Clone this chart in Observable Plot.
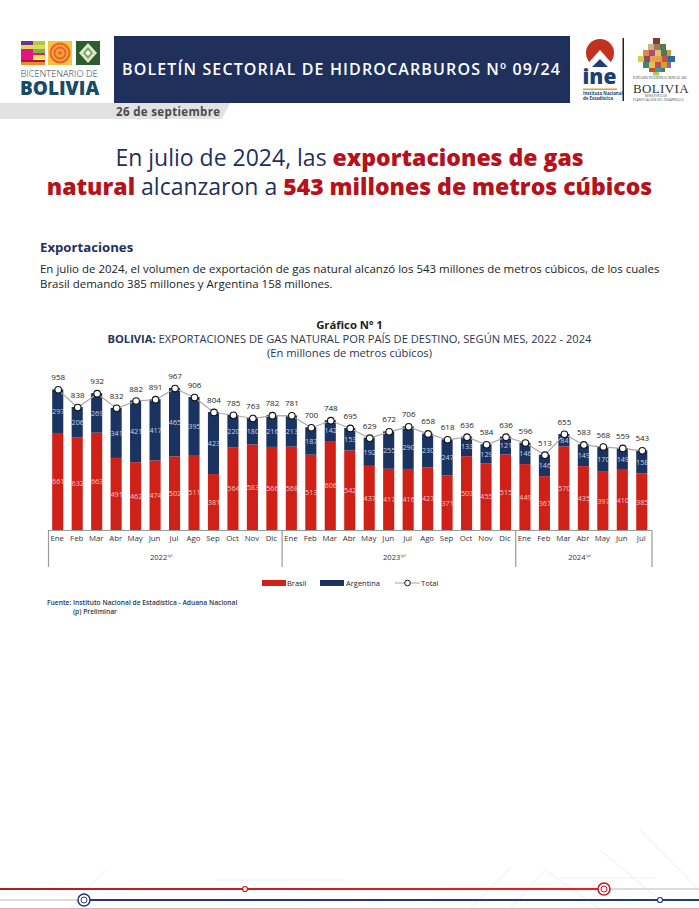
<!DOCTYPE html>
<html lang="es">
<head>
<meta charset="utf-8">
<script src="https://cdn.jsdelivr.net/npm/d3@7"></script>
<script src="https://cdn.jsdelivr.net/npm/@observablehq/plot@0.6"></script>
<style>
html,body{margin:0;padding:0;background:#fff;}
body{position:relative;width:699px;height:909px;overflow:hidden;font-family:"Open Sans",sans-serif;color:#1d1d1b;}
.abs{position:absolute;white-space:nowrap;}
#chart{position:absolute;left:0;top:370px;}
#chart svg{display:block;background:transparent;}
b.red{color:#b5121b;font-weight:800;}
</style>
</head>
<body>
<!-- faint background lines -->
<svg class="abs" style="left:0;top:790px" width="699" height="119" fill="none" stroke="#f4f4f4" stroke-width="1.500">
  <path d="M70 119 L105 80"/><path d="M215 90 H345"/><path d="M470 119 L510 78"/><path d="M510 119 L545 80 L600 119"/>
  <path d="M560 88 H655"/><path d="M600 60 L660 110 M640 40 L699 100"/>
</svg>
<!-- header logos -->
<svg class="abs" style="left:0;top:0" width="699" height="120" xmlns="http://www.w3.org/2000/svg">
  <rect x="21" y="41" width="24" height="4" fill="#7b2d8b"/><rect x="33" y="41" width="12" height="4" fill="#b8c83c"/>
  <rect x="21" y="45" width="24" height="4" fill="#d6df5a"/><rect x="21" y="49" width="24" height="6" fill="#e5157f"/>
  <rect x="33" y="49" width="12" height="4" fill="#7ab648"/>
  <rect x="33" y="55" width="12" height="4" fill="#f6e34a"/><rect x="21" y="55" width="12" height="5" fill="#e5157f"/>
  <rect x="21" y="60" width="24" height="2" fill="#a8193d"/><rect x="21" y="62" width="24" height="3" fill="#f08a2c"/>
  <rect x="48" y="41" width="24" height="24" fill="#f5c43a"/>
  <circle cx="60" cy="53" r="9.500" fill="#f3a33a" stroke="#e8622a" stroke-width="2"/><circle cx="60" cy="53" r="5.500" fill="none" stroke="#e8622a" stroke-width="1.800"/><circle cx="60" cy="53" r="1.800" fill="#e8622a"/>
  <rect x="76" y="41" width="24" height="24" fill="#2e5c30"/>
  <path d="M88 43 L97 53 L88 63 L79 53Z" fill="#dfe8c8"/><path d="M88 47 L93 53 L88 59 L83 53Z" fill="#6fa86a"/><path d="M88 50 L90.500 53 L88 56 L85.500 53Z" fill="#fff"/>

  <!-- INE mark -->
  <circle cx="600" cy="53" r="14" fill="#c2321f"/>
  <path d="M584 68 L600 50 L616 68 L616 70 L584 70Z" fill="#fff"/>
  <path d="M592 67 L600 59 L608 67Z" fill="#1c3f78"/>
  <rect x="583" y="88.500" width="34" height="1.500" fill="#d9a520"/>
  <rect x="622.500" y="38" width="1.500" height="63" fill="#222"/>
  <!-- state emblem -->
  <g>
    <rect x="653" y="38" width="7" height="6" fill="#8a3a2b"/>
    <rect x="648" y="44" width="6" height="6" fill="#c9b48a"/><rect x="654" y="44" width="6" height="6" fill="#9a7a5a"/><rect x="660" y="44" width="6" height="6" fill="#5a7a4a"/>
    <rect x="643" y="50" width="6" height="6" fill="#d98a4a"/><rect x="649" y="50" width="6" height="6" fill="#b0486a"/><rect x="655" y="50" width="6" height="6" fill="#e0c070"/><rect x="661" y="50" width="6" height="6" fill="#4a7a5a"/><rect x="667" y="50" width="4" height="6" fill="#c8a040"/>
    <rect x="638" y="56" width="6" height="6" fill="#dccb3a"/><rect x="644" y="56" width="6" height="6" fill="#8a4a6a"/><rect x="650" y="56" width="6" height="6" fill="#e6a060"/><rect x="656" y="56" width="6" height="6" fill="#e0a040"/><rect x="662" y="56" width="6" height="6" fill="#c85040"/><rect x="668" y="56" width="7" height="6" fill="#2a6aa0"/>
    <rect x="643" y="62" width="6" height="6" fill="#3a8a6a"/><rect x="649" y="62" width="6" height="6" fill="#e8c050"/><rect x="655" y="62" width="6" height="6" fill="#c05050"/><rect x="661" y="62" width="6" height="6" fill="#d0a030"/><rect x="667" y="62" width="4" height="6" fill="#8a6aa0"/>
    <rect x="649" y="68" width="6" height="4" fill="#c84a3a"/><rect x="655" y="68" width="6" height="4" fill="#2a9ac0"/><rect x="661" y="68" width="4" height="4" fill="#4a8a3a"/>
    <rect x="653" y="72" width="6" height="3.500" fill="#b8c83c"/>
  </g>
</svg>
<div class="abs" style="left:20.500px;top:68px;font-size:9.300px;line-height:11px;font-weight:300;color:#2f3b44">BICENTENARIO DE</div>
<div class="abs" style="left:20px;top:79px;font-size:19px;line-height:19px;font-weight:800;color:#174b66">BOLIVIA</div>
<div class="abs" style="left:114px;top:36px;width:456px;height:67px;background:#1f305c"></div>
<div class="abs" style="left:122px;top:58px;font-size:16px;font-weight:600;color:#fff;letter-spacing:1.130px">BOLETÍN SECTORIAL DE HIDROCARBUROS Nº 09/24</div>
<div class="abs" style="left:0;top:103px;width:230px;height:16px;background:#e2e2e2;clip-path:polygon(0 0,100% 0,96.500% 100%,0 100%)"></div>
<div class="abs" style="left:116px;top:103.500px;font-size:11.500px;font-weight:700;color:#4a4a4a;letter-spacing:.35px">26 de septiembre</div>
<div class="abs" style="left:582.500px;top:62px;font-size:21px;font-weight:800;color:#1c3f78">ine</div>
<div class="abs" style="left:583px;top:90.500px;font-size:4.400px;line-height:5px;font-weight:700;color:#1c3f78">Instituto Nacional<br>de Estadística</div>
<div class="abs" style="left:633px;top:76px;font-family:'Liberation Serif',serif;font-size:3.900px;color:#444">ESTADO PLURINACIONAL DE</div>
<div class="abs" style="left:633px;top:80.500px;font-family:'Liberation Serif',serif;font-size:13px;color:#333;letter-spacing:.35px">BOLIVIA</div>
<div class="abs" style="left:633px;top:95px;font-size:3.200px;line-height:3.500px;color:#555;text-align:center;width:46px">MINISTERIO DE<br>PLANIFICACIÓN DEL DESARROLLO</div>

<!-- title -->
<div class="abs" style="left:0;width:699px;top:143px;text-align:center;font-size:23px;line-height:29px;color:#1f305c">En julio de 2024, las <b class="red" style="font-size:23px">exportaciones de gas</b><br><b class="red" style="font-size:23px">natural</b> alcanzaron a <b class="red" style="font-size:23px">543 millones de metros cúbicos</b></div>
<div class="abs" style="left:40px;top:238px;font-size:13.200px;font-weight:700;color:#1f305c">Exportaciones</div>
<div class="abs" style="left:40px;top:261px;font-size:11.480px;line-height:15px;color:#222">En julio de 2024, el volumen de exportación de gas natural alcanzó los 543 millones de metros cúbicos, de los cuales<br>Brasil demando 385 millones y Argentina 158 millones.</div>
<div class="abs" style="left:0;width:699px;top:317px;text-align:center;font-size:11.300px;font-weight:700;color:#222">Gráfico Nº 1</div>
<div class="abs" style="left:0;width:699px;top:331px;text-align:center;font-size:11.150px;color:#2b3553"><b style="color:#1f305c">BOLIVIA:</b> EXPORTACIONES DE GAS NATURAL POR PAÍS DE DESTINO, SEGÚN MES, 2022 - 2024</div>
<div class="abs" style="left:0;width:699px;top:345px;text-align:center;font-size:11.200px;color:#2b3553">(En millones de metros cúbicos)</div>

<div id="chart"></div>

<!-- legend -->
<div class="abs" style="left:262px;top:580px;width:24px;height:6px;background:#cf2118"></div>
<div class="abs" style="left:287px;top:578px;font-size:7.500px;color:#222">Brasil</div>
<div class="abs" style="left:320px;top:580px;width:24px;height:6px;background:#1a3360"></div>
<div class="abs" style="left:346px;top:578px;font-size:7.500px;color:#222">Argentina</div>
<svg class="abs" style="left:395px;top:578px" width="26" height="10"><line x1="0" x2="25" y1="5" y2="5" stroke="#a6a6a6" stroke-width="1"/><circle cx="12.500" cy="5" r="2.800" fill="#fff" stroke="#111" stroke-width="1"/></svg>
<div class="abs" style="left:421px;top:578px;font-size:7.500px;color:#222">Total</div>
<div class="abs" style="left:47px;top:599px;font-size:6.700px;font-weight:600;line-height:8.500px;color:#2b3553">Fuente: Instituto Nacional de Estadística - Aduana Nacional<br><span style="margin-left:26px">(p) Preliminar</span></div>

<!-- footer lines -->
<svg class="abs" style="left:0;top:870px" width="699" height="39">
  <defs>
    <linearGradient id="rg" x1="0" x2="1" y1="0" y2="0"><stop offset="0" stop-color="#a8211f"/><stop offset="1" stop-color="#ee1c25"/></linearGradient>
    <linearGradient id="bg" x1="0" x2="1" y1="0" y2="0"><stop offset="0" stop-color="#2c2e92"/><stop offset="1" stop-color="#1f3f70"/></linearGradient>
  </defs>
  <rect x="0" y="18" width="603" height="2" fill="url(#rg)"/>
  <rect x="603" y="18" width="96" height="2" fill="#dcdcdc"/>
  <rect x="0" y="29" width="84" height="2" fill="#dcdcdc"/>
  <rect x="84" y="29" width="615" height="2" fill="url(#bg)"/>
  <line x1="0" x2="699" y1="38.500" y2="38.500" stroke="#bdbdbd" stroke-width="1"/>
  <circle cx="245" cy="19" r="2.500" fill="#fff" stroke="#c8161d" stroke-width="1.200"/>
  <circle cx="660" cy="30" r="2.500" fill="#fff" stroke="#1f3a7a" stroke-width="1.200"/>
  <circle cx="604" cy="19" r="6" fill="#fff" stroke="#c8161d" stroke-width="1.500"/><circle cx="604" cy="19" r="3" fill="none" stroke="#c8161d" stroke-width="1"/>
  <circle cx="84" cy="30" r="6" fill="#fff" stroke="#1f3a7a" stroke-width="1.500"/><circle cx="84" cy="30" r="3" fill="none" stroke="#1f3a7a" stroke-width="1"/>
</svg>

<script>
const months = ["Ene","Feb","Mar","Abr","May","Jun","Jul","Ago","Sep","Oct","Nov","Dic",
  "Ene","Feb","Mar","Abr","May","Jun","Jul","Ago","Sep","Oct","Nov","Dic",
  "Ene","Feb","Mar","Abr","May","Jun","Jul"];
const brasil = [661,632,663,491,462,474,502,511,381,564,583,566,
  568,513,606,542,437,417,416,427,371,503,455,515,
  449,367,570,435,397,410,385];
const argentina = [297,206,269,341,421,417,465,395,423,220,180,216,
  213,187,142,153,192,255,290,230,247,133,129,121,
  146,146,84,149,170,149,158];
const total = [958,838,932,832,882,891,967,906,804,785,763,782,
  781,700,748,695,629,672,706,658,618,636,584,636,
  596,513,655,583,568,559,543];
const years = [{label:"2022",first:0,last:11},{label:"2023",first:12,last:23},{label:"2024",first:24,last:30}];

const RED="#cf2118", NAVY="#1a3360", FRAME="#9a9a9a";
const idx = months.map((_,i)=>i);
const rows = idx.flatMap(i=>[
  {i,serie:"Brasil",v:brasil[i]},
  {i,serie:"Argentina",v:argentina[i]}
]);
const W = 699, H = 200, ML = 48, MR = W-651.5;
const step = (W-ML-MR)/months.length;
const pxPerUnit = 0.1468;
const below = px => -px/pxPerUnit;
const yearAnchor = d => d.first+Math.floor((d.last-d.first)/2);
const yearNudge = {"2022":3,"2023":2.5,"2024":-7};

const plot = Plot.plot({
  width:W, height:H,
  marginLeft:ML, marginRight:MR, marginTop:0, marginBottom:40,
  style:{fontFamily:"'Open Sans',sans-serif",background:"transparent",overflow:"visible"},
  x:{type:"band",domain:idx,paddingInner:0.43,paddingOuter:0.215,align:0.5,round:false,axis:null},
  y:{domain:[0,160/pxPerUnit],axis:null},
  color:{domain:["Brasil","Argentina"],range:[RED,NAVY]},
  marks:[
    Plot.barY(rows,Plot.stackY({x:"i",y:"v",fill:"serie",order:["Brasil","Argentina"]})),
    Plot.line(idx,{x:i=>i,y:i=>total[i],stroke:"#a9a9a9",strokeWidth:1.2}),
    Plot.dot(idx,{x:i=>i,y:i=>total[i],r:3.3,fill:"#fff",stroke:"#111",strokeWidth:1.1}),
    Plot.text(idx,{x:i=>i,y:i=>total[i],text:i=>String(total[i]),dy:-12,fontSize:8,fill:"#1d1d1b"}),
    Plot.text(idx,{x:i=>i,y:i=>brasil[i]/2,text:i=>String(brasil[i]),fontSize:7.2,fill:"#f3c7c4"}),
    Plot.text(idx,{x:i=>i,y:i=>brasil[i]+argentina[i]/2,text:i=>String(argentina[i]),fontSize:7.2,fill:"#c9d4e6"}),
    Plot.ruleY([0],{stroke:FRAME,strokeWidth:1.2}),
    Plot.ruleX(years,{x:d=>d.first,y1:0,y2:below(37),dx:-step/2,stroke:FRAME,strokeWidth:1.2}),
    Plot.ruleX(years.slice(-1),{x:d=>d.last,y1:0,y2:below(37),dx:step/2,stroke:FRAME,strokeWidth:1.2}),
    Plot.text(idx,{x:i=>i,y:below(8),text:i=>months[i],fontSize:7.8,fill:"#333",dx:-1}),
    ...years.map(d=>Plot.text([d],{x:yearAnchor,y:below(27),text:"label",fontSize:7.6,fill:"#333",dx:yearNudge[d.label]})),
    ...years.map(d=>Plot.text([d],{x:yearAnchor,y:below(25.500),text:()=>"(p)",fontSize:4,fill:"#333",dx:yearNudge[d.label]+11.5}))
  ]
});
document.getElementById("chart").appendChild(plot);
</script>
</body>
</html>
